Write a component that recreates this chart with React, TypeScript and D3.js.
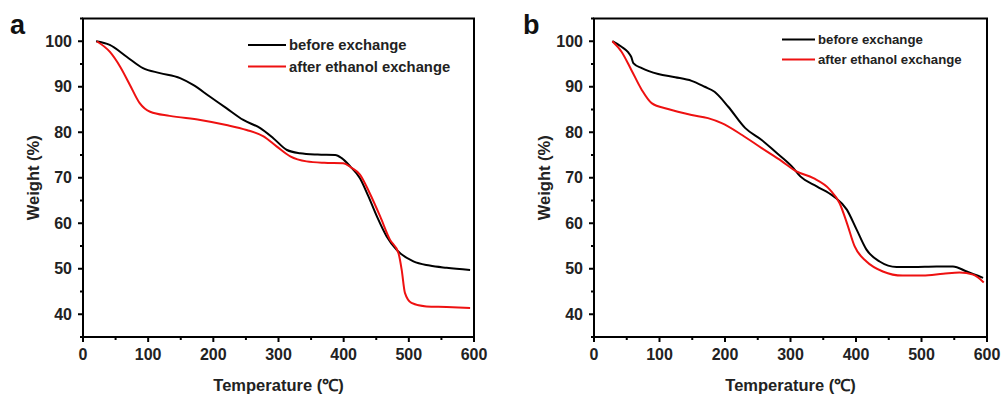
import React from "react";
import * as d3 from "d3";

// ---- Data (Temperature °C, Weight %) ----
const aBeforeT = [20, 41, 67, 92, 118, 149, 169, 195, 220, 246, 272, 292, 313, 333, 360, 387, 397, 410, 425, 438, 451, 466, 481, 507, 532, 558, 594];
const aBeforeW = [100, 99.2, 96.6, 94.1, 93.0, 91.9, 90.4, 87.8, 85.3, 82.7, 80.9, 78.7, 76.1, 75.4, 75.1, 75.0, 74.3, 72.5, 69.9, 65.9, 61.5, 57.1, 54.2, 51.6, 50.7, 50.2, 49.7];
const aAfterT = [21, 41, 57, 72, 87, 103, 133, 180, 220, 251, 277, 297, 318, 343, 370, 399, 412, 425, 440, 456, 471, 484, 489, 494, 504, 527, 558, 594];
const aAfterW = [100, 97.7, 94.4, 90.4, 86.4, 84.5, 83.6, 82.7, 81.6, 80.5, 79.1, 76.9, 74.7, 73.6, 73.3, 73.2, 72.2, 70.7, 66.6, 61.5, 56.4, 53.5, 49.8, 44.7, 42.5, 41.7, 41.6, 41.4];
const bBeforeT = [28, 42, 52, 57, 60, 73, 98, 124, 149, 169, 184, 205, 231, 256, 276, 302, 315, 340, 366, 386, 401, 416, 436, 462, 487, 523, 548, 569, 594];
const bBeforeW = [100, 98.8, 97.6, 96.5, 95.2, 94.1, 92.8, 92.1, 91.3, 90.0, 88.9, 85.6, 80.9, 78.3, 75.8, 72.5, 70.3, 68.1, 65.9, 63.0, 58.6, 54.2, 51.6, 50.4, 50.4, 50.5, 50.5, 49.4, 48.0];
const bAfterT = [28, 42, 57, 73, 88, 113, 149, 174, 195, 226, 256, 286, 309, 335, 360, 375, 386, 398, 416, 441, 471, 502, 533, 558, 579, 595];
const bAfterW = [100, 97.7, 93.7, 89.3, 86.4, 85.1, 83.8, 83.1, 82.0, 79.4, 76.5, 73.7, 71.4, 69.9, 67.4, 64.4, 60.1, 54.9, 51.6, 49.4, 48.5, 48.5, 48.9, 49.2, 48.7, 47.0];

const xTicks = [0, 100, 200, 300, 400, 500, 600];
const yTicks = [40, 50, 60, 70, 80, 90, 100];
const seriesNames = ["before exchange", "after ethanol exchange"];
const seriesColors = ["#000000", "#ee1111"];
const xTitle = "Temperature (\u2103)";
const yTitle = "Weight (%)";

const FONT = "'Liberation Sans', Arial, Helvetica, sans-serif";

type PanelProps = {
  letter: string;
  left: number;
  right: number;
  series: { t: number[]; w: number[] }[];
  legendX: number;
  legendY: number;
  legendGap: number;
  legendLine: number;
  legendFont: number;
  letterX: number;
  letterY: number;
};

function Panel(p: PanelProps) {
  const top = 18.5;
  const bottom = 337;
  const x = d3.scaleLinear().domain([0, 600]).range([p.left, p.right]);
  const y = d3.scaleLinear().domain([35, 105]).range([bottom, top]);
  const minorX = d3.range(0, 601, 50).filter((v) => v % 100 !== 0);
  const minorY = d3.range(35, 106, 5).filter((v) => v % 10 !== 0);
  const line = d3
    .line<[number, number]>()
    .x((d) => x(d[0]))
    .y((d) => y(d[1]))
    .curve(d3.curveMonotoneX);
  return (
    <g>
      {p.series.map((s, i) => (
        <path
          key={i}
          d={line(s.t.map((t, j) => [t, s.w[j]] as [number, number])) || ""}
          fill="none"
          stroke={seriesColors[i]}
          strokeWidth={2}
          strokeLinejoin="round"
        />
      ))}
      <rect x={p.left} y={top} width={p.right - p.left} height={bottom - top} fill="none" stroke="#000" strokeWidth={2} />
      {xTicks.map((v) => (
        <g key={"xt" + v}>
          <line x1={x(v)} x2={x(v)} y1={bottom} y2={bottom + 5} stroke="#000" strokeWidth={2} />
          <text x={x(v)} y={354} textAnchor="middle" dominantBaseline="central" fontFamily={FONT} fontWeight="bold" fontSize={16} fill="#222">
            {v}
          </text>
        </g>
      ))}
      {minorX.map((v) => (
        <line key={"xm" + v} x1={x(v)} x2={x(v)} y1={bottom} y2={bottom + 3} stroke="#000" strokeWidth={2} />
      ))}
      {yTicks.map((v) => (
        <g key={"yt" + v}>
          <line x1={p.left - 5} x2={p.left} y1={y(v)} y2={y(v)} stroke="#000" strokeWidth={2} />
          <text x={p.left - 11} y={y(v)} textAnchor="end" dominantBaseline="central" fontFamily={FONT} fontWeight="bold" fontSize={16} fill="#222">
            {v}
          </text>
        </g>
      ))}
      {minorY.map((v) => (
        <line key={"ym" + v} x1={p.left - 3} x2={p.left} y1={y(v)} y2={y(v)} stroke="#000" strokeWidth={2} />
      ))}
      <text x={(p.left + p.right) / 2} y={385} textAnchor="middle" dominantBaseline="central" fontFamily={FONT} fontWeight="bold" fontSize={16.5} fill="#222">
        {xTitle}
      </text>
      <text
        transform={`translate(${p.left - 50},${(top + bottom) / 2}) rotate(-90)`}
        textAnchor="middle"
        dominantBaseline="central"
        fontFamily={FONT}
        fontWeight="bold"
        fontSize={16.5}
        fill="#222"
      >
        {yTitle}
      </text>
      {seriesNames.map((n, i) => (
        <g key={"lg" + i}>
          <line
            x1={p.legendX}
            x2={p.legendX + p.legendLine}
            y1={p.legendY + i * p.legendGap}
            y2={p.legendY + i * p.legendGap}
            stroke={seriesColors[i]}
            strokeWidth={2}
          />
          <text
            x={p.legendX + p.legendLine + 3}
            y={p.legendY + i * p.legendGap}
            dominantBaseline="central"
            fontFamily={FONT}
            fontWeight="bold"
            fontSize={p.legendFont}
            fill="#222"
          >
            {n}
          </text>
        </g>
      ))}
      <text x={p.letterX} y={p.letterY} fontFamily={FONT} fontWeight="bold" fontSize={27} fill="#111">
        {p.letter}
      </text>
    </g>
  );
}

export default function App() {
  return (
    <svg width={1005} height={397} style={{ position: "absolute", left: 0, top: 0, background: "#fff" }}>
      <rect width={1005} height={397} fill="#fff" />
      <Panel
        letter="a"
        left={83}
        right={474}
        series={[
          { t: aBeforeT, w: aBeforeW },
          { t: aAfterT, w: aAfterW },
        ]}
        legendX={248}
        legendY={45}
        legendGap={21.5}
        legendLine={38}
        legendFont={14.8}
        letterX={10}
        letterY={34}
      />
      <Panel
        letter="b"
        left={594}
        right={987}
        series={[
          { t: bBeforeT, w: bBeforeW },
          { t: bAfterT, w: bAfterW },
        ]}
        legendX={782}
        legendY={39.5}
        legendGap={20}
        legendLine={33}
        legendFont={13.2}
        letterX={523}
        letterY={34}
      />
    </svg>
  );
}
